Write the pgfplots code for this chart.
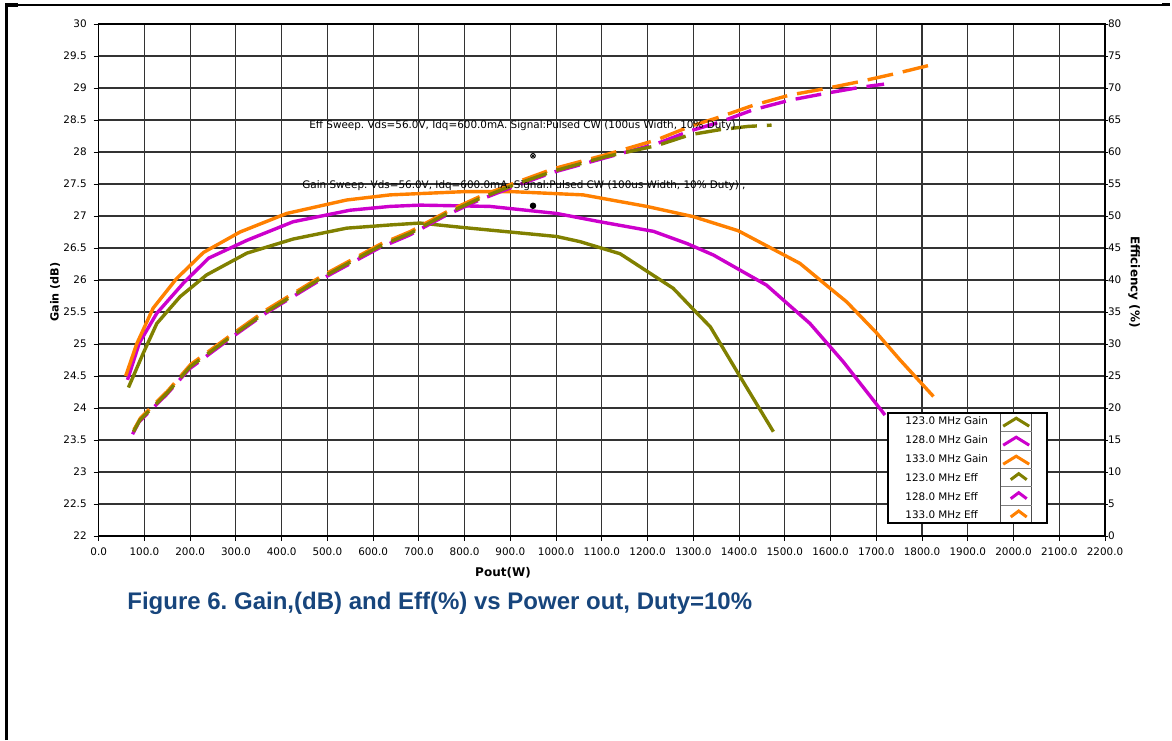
\documentclass[border=0pt]{standalone}
\usepackage{pgfplots}
\pgfplotsset{compat=1.18}
\usepackage{fontspec}
\setmainfont{DejaVu Sans}
\newfontfamily\titlefont{Liberation Sans}
\definecolor{cOlive}{RGB}{128,128,0}
\definecolor{cMag}{RGB}{204,0,204}
\definecolor{cOrange}{RGB}{255,128,0}
\definecolor{cTitle}{RGB}{23,69,124}
\newcommand{\fs}{\fontsize{5.2}{6}\selectfont}
\frenchspacing
\begin{document}
\frenchspacing
\begin{tikzpicture}
\useasboundingbox (0,0) rectangle (586pt,370pt);
% frame
\draw[line width=1.5pt] (3pt,0) -- (3pt,367.5pt);
\draw[line width=0.6pt] (3pt,367.5pt) -- (583pt,367.5pt);
\draw[line width=2pt] (2.5pt,367.5pt) -- (9pt,367.5pt);
\draw[line width=1.5pt] (581pt,367.5pt) -- (585pt,367.5pt);
\begin{axis}[
  at={(49.35pt,102pt)}, anchor=south west, scale only axis,
  width=503.15pt, height=256pt,
  xmin=0, xmax=2200, ymin=22, ymax=30,
  xtick distance=100, ytick distance=0.5,
  grid=major, major grid style={black!80, line width=0.55pt},
  axis line style={black, line width=0.6pt},
  tick align=outside, major tick length=2.5pt, tick style={black, line width=0.5pt},
  xtick pos=bottom, ytick pos=left,
  ticklabel style={font=\fs},
  /pgf/number format/assume math mode=true,
  /pgf/number format/1000 sep={},
  xticklabel={\pgfmathprintnumber[fixed,precision=1,zerofill,1000 sep={}]{\tick}},
  yticklabel={\pgfmathprintnumber[fixed,precision=1]{\tick}},
  clip=false,
]
\addplot[cOlive, line width=1.7pt] coordinates {
(65,24.32)(97,24.85)(127,25.32)(178,25.74)(236,26.08)(324,26.42)(425,26.64)(542,26.81)(637,26.86)(702,26.89)(797,26.82)(899,26.75)(1001,26.68)(1052,26.60)(1140,26.41)(1256,25.87)(1315,25.43)(1337,25.27)(1398,24.54)(1475,23.63)};
\addplot[cMag, line width=1.7pt] coordinates {
(63,24.44)(89,25.02)(127,25.48)(185,25.95)(240,26.34)(324,26.62)(425,26.91)(549,27.09)(637,27.15)(702,27.17)(855,27.15)(1001,27.04)(1096,26.91)(1213,26.76)(1286,26.57)(1344,26.39)(1460,25.92)(1555,25.32)(1628,24.72)(1719,23.89)};
\addplot[cOrange, line width=1.7pt] coordinates {
(59,24.50)(83,25.00)(119,25.56)(170,26.02)(229,26.43)(309,26.75)(411,27.04)(542,27.25)(637,27.33)(797,27.38)(906,27.38)(1059,27.33)(1198,27.15)(1300,26.99)(1398,26.77)(1533,26.26)(1599,25.87)(1635,25.66)(1701,25.17)(1752,24.75)(1825,24.18)};
\addplot[only marks, mark=*, mark size=1.4pt, black] coordinates {(949.5,27.16)};
\addplot[only marks, mark=otimes*, mark size=1.2pt, black, fill=white, line width=0.4pt] coordinates {(949.5,27.94)};
\end{axis}
\begin{axis}[
  at={(49.35pt,102pt)}, anchor=south west, scale only axis,
  width=503.15pt, height=256pt,
  xmin=0, xmax=2200, ymin=0, ymax=80,
  axis y line*=right, axis x line=none,
  ytick distance=5,
  axis line style={black, line width=0.6pt},
  tick align=outside, major tick length=1.5pt, tick style={black, line width=0.5pt},
  ticklabel style={font=\fs},
  yticklabel style={xshift=-3.5pt},
  /pgf/number format/assume math mode=true,
]
\addplot[cMag, line width=1.7pt, dash pattern=on 13pt off 5pt] coordinates {
(74,15.9)(88,17.8)(117,19.9)(147,22.0)(198,26.1)(292,31.1)(365,34.8)(489,40.2)(613,45.0)(679,47.0)(759,50.1)(832,52.5)(904,54.5)(992,56.8)(1108,59.1)(1220,61.3)(1293,63.3)(1359,64.7)(1431,66.6)(1511,68.1)(1592,69.2)(1664,70.1)(1717,70.6)};
\addplot[cOrange, line width=1.7pt, dash pattern=on 13pt off 5pt] coordinates {
(77,16.6)(91,18.4)(120,20.5)(150,22.6)(201,26.8)(295,31.7)(368,35.4)(492,40.8)(616,45.6)(682,47.6)(762,50.7)(835,53.1)(907,55.1)(995,57.4)(1110,59.6)(1220,61.9)(1293,64.0)(1359,65.5)(1431,67.3)(1511,68.9)(1592,69.95)(1664,71.0)(1745,72.3)(1825,73.7)};
\addplot[cOlive, line width=1.7pt, dash pattern=on 13pt off 5pt] coordinates {
(76,16.3)(90,18.1)(119,20.2)(149,22.3)(200,26.45)(294,31.4)(367,35.05)(491,40.5)(615,45.3)(681,47.3)(761,50.4)(834,52.76)(906,54.8)(994,57.0)(1110,59.3)(1220,61.0)(1293,62.7)(1359,63.5)(1420,64.0)(1471,64.2)};
\end{axis}
% annotations
\node[anchor=west, font=\fs, inner sep=0pt] at (154.5pt,307pt) {Eff Sweep. Vds=56.0V, Idq=600.0mA. Signal:Pulsed CW (100us Width, 10\% Duty) ,};
\node[anchor=west, font=\fs, inner sep=0pt] at (151pt,277pt) {Gain Sweep. Vds=56.0V, Idq=600.0mA. Signal:Pulsed CW (100us Width, 10\% Duty) ,};
% axis labels
\node[rotate=90, font=\fontsize{5.6}{7}\selectfont\bfseries] at (27.5pt,224pt) {Gain (dB)};
\node[rotate=-90, font=\fontsize{6}{7}\selectfont\bfseries] at (567pt,229pt) {Efficiency (\%)};
\node[font=\fontsize{6}{7}\selectfont\bfseries] at (251.5pt,83.5pt) {Pout(W)};
% title
\node[anchor=base west, inner sep=0pt, text=cTitle, font=\titlefont\bfseries\fontsize{12}{14}\selectfont] at (63.5pt,65.5pt) {Figure 6. Gain,(dB) and Eff(\%) vs Power out, Duty=10\%};
% legend
\fill[white] (444.15pt,108.5pt) rectangle (523.35pt,163.35pt);
\draw[black!70, line width=0.4pt] (500.35pt,108.5pt) -- (500.35pt,163.35pt);
\draw[black!70, line width=0.4pt] (515.85pt,108.5pt) -- (515.85pt,163.35pt);
\foreach \yy in {154.5,145,135.85,126.65,117.5} {
  \draw[black!50, line width=0.4pt] (500.35pt,\yy pt) -- (515.85pt,\yy pt);
}
\draw[black, line width=1pt] (444.15pt,108.5pt) rectangle (523.35pt,163.35pt);
\foreach \yy/\txt in {159.5/123.0 MHz Gain,150/128.0 MHz Gain,140.5/133.0 MHz Gain,131.15/123.0 MHz Eff,121.65/128.0 MHz Eff,112.5/133.0 MHz Eff} {
  \node[anchor=west, font=\fs, inner sep=0pt] at (452.5pt,\yy pt) {\txt};
}
\foreach \yy/\cc in {159.5/cOlive,150/cMag,140.5/cOrange} {
  \draw[\cc, line width=1.5pt] (501.6pt,\yy pt-2.6pt) -- (508.1pt,\yy pt+1.4pt) -- (514.6pt,\yy pt-2.6pt);
}
\foreach \yy/\cc in {131.15/cOlive,121.65/cMag,112.5/cOrange} {
  \draw[\cc, line width=1.5pt] (505.35pt,\yy pt-1pt) -- (509.35pt,\yy pt+2pt) -- (513.35pt,\yy pt-1pt);
}
\end{tikzpicture}
\end{document}
